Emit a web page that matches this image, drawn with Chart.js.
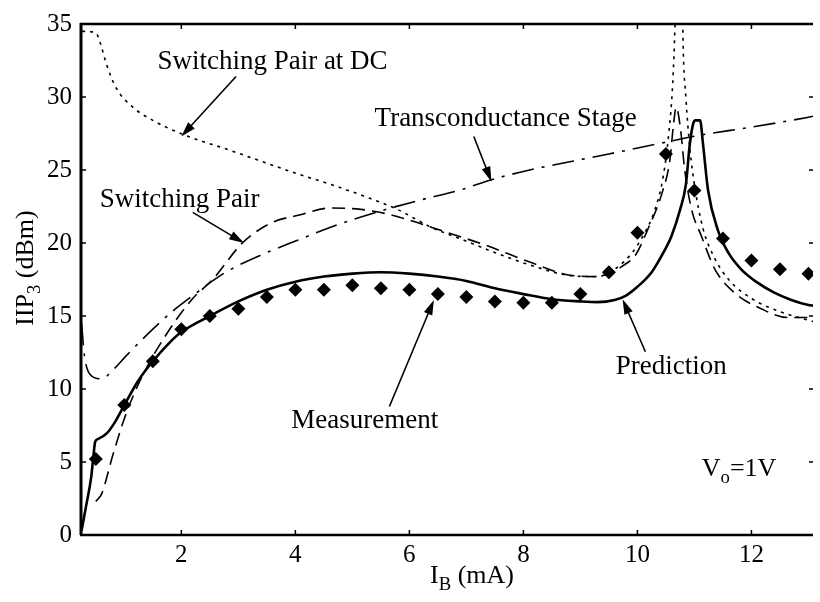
<!DOCTYPE html>
<html>
<head>
<meta charset="utf-8">
<script src="https://cdn.jsdelivr.net/npm/chart.js@4.4.1/dist/chart.umd.min.js"></script>
<style>
  body { margin: 0; background: #fff; }
  #wrap { width: 820px; height: 602px; }
</style>
</head>
<body>
<div id="wrap"><canvas id="iip3"></canvas></div>
<script>
// IIP3 versus bias current
const FONT = "'Liberation Serif', 'Times New Roman', serif";

// measured points (diamonds)
const measX = [0.5, 1, 1.5, 2, 2.5, 3, 3.5, 4, 4.5, 5, 5.5, 6, 6.5, 7, 7.5, 8, 8.5, 9, 9.5, 10, 10.5, 11, 11.5, 12, 12.5, 13];
const measY = [5.2, 8.9, 11.9, 14.1, 15.0, 15.5, 16.3, 16.8, 16.8, 17.1, 16.9, 16.8, 16.5, 16.3, 16.0, 15.9, 15.9, 16.5, 18.0, 20.7, 26.1, 23.6, 20.3, 18.8, 18.2, 17.9];

// prediction (solid)
const predX = [0.25, 0.33, 0.42, 0.46, 0.49, 0.55, 0.7, 0.83, 1.0, 1.25, 1.5, 1.85, 2.0, 2.5, 3.0, 3.5, 4.0, 4.5, 5.0, 5.5, 6.0, 6.5, 7.0, 7.5, 8.0, 8.5, 9.0, 9.3, 9.6, 9.8, 10.0, 10.25, 10.45, 10.6, 10.75, 10.85, 10.92, 10.98, 11.02, 11.1, 11.15, 11.24, 11.41, 11.6, 11.82, 12.1, 12.4, 12.7, 13.0, 13.1];
const predY = [0.3, 2.0, 4.0, 5.5, 6.4, 6.6, 7.0, 7.7, 8.9, 10.6, 11.9, 13.4, 13.9, 15.0, 16.0, 16.8, 17.35, 17.7, 17.9, 18.0, 17.9, 17.7, 17.4, 16.9, 16.5, 16.15, 16.0, 15.95, 16.1, 16.4, 17.0, 18.0, 19.3, 20.5, 22.3, 24.0, 26.8, 28.2, 28.4, 28.4, 26.8, 23.6, 20.9, 19.3, 18.2, 17.3, 16.6, 16.1, 15.75, 15.7];

// switching pair (dashed)
const swX = [0.5, 0.6, 0.8, 1.03, 1.33, 1.73, 2.2, 2.55, 3.07, 3.59, 4.05, 4.63, 5.15, 5.6, 5.97, 6.6, 7.3, 8.11, 8.69, 8.92, 9.21, 9.5, 9.73, 9.97, 10.2, 10.43, 10.57, 10.63, 10.68, 10.75, 10.83, 10.95, 11.12, 11.36, 11.7, 12.17, 12.63, 13.1];
const swY = [2.3, 2.8, 5.5, 8.3, 11.0, 13.7, 16.2, 17.5, 20.0, 21.4, 21.9, 22.4, 22.3, 22.0, 21.6, 20.8, 19.9, 18.7, 17.9, 17.75, 17.7, 17.9, 18.4, 19.2, 21.1, 23.4, 25.7, 28.0, 29.3, 28.0, 25.0, 22.3, 20.5, 18.2, 16.6, 15.5, 14.9, 14.9];

// switching pair at DC (dotted)
const dcX = [0.26, 0.5, 0.57, 0.69, 0.86, 1.15, 1.5, 1.99, 2.89, 3.99, 4.63, 5.21, 5.79, 6.37, 6.95, 7.53, 8.11, 8.86, 9.3, 9.6, 9.9, 10.1, 10.3, 10.45, 10.55, 10.62, 10.66, 10.69, 10.78, 10.8, 10.85, 10.92, 11.0, 11.15, 11.35, 11.6, 12.0, 12.5, 13.1];
const dcY = [34.5, 34.4, 33.8, 32.2, 30.6, 29.3, 28.4, 27.5, 26.3, 24.8, 24.0, 23.2, 22.3, 21.1, 20.2, 19.3, 18.5, 17.75, 17.7, 18.2, 19.3, 20.5, 22.2, 24.5, 27.5, 31, 35, 40, 40, 34, 30, 26.5, 24, 21, 19, 17.5, 16.2, 15.3, 14.6];

// transconductance stage (dash-dot)
const tcX = [0.25, 0.3, 0.4, 0.6, 0.8, 1.04, 1.5, 1.9, 2.2, 2.78, 3.47, 4.05, 4.63, 5.5, 6.2, 6.95, 7.41, 8.11, 8.86, 9.5, 10.37, 11.12, 11.94, 12.98, 13.1];
const tcY = [14.5, 12.3, 11.0, 10.7, 11.3, 12.3, 14.1, 15.5, 16.4, 18.0, 19.3, 20.2, 21.1, 22.2, 22.95, 23.7, 24.3, 25.0, 25.6, 26.1, 26.8, 27.4, 27.9, 28.6, 28.7];

const xTicks = [2, 4, 6, 8, 10, 12];
const yTicks = [0, 5, 10, 15, 20, 25, 30, 35];

// labels with arrows, in data units: text anchor, arrow tail, arrow head
const notes = [
  { text: 'Switching Pair at DC', at: [1.58, 31.9], from: [2.96, 31.4], to: [2.0, 27.3] },
  { text: 'Transconductance Stage', at: [5.39, 28.0], from: [7.13, 27.3], to: [7.44, 24.2] },
  { text: 'Switching Pair', at: [0.57, 22.5], from: [2.2, 22.1], to: [3.1, 20.0] },
  { text: 'Measurement', at: [3.93, 7.33], from: [5.65, 8.8], to: [6.43, 16.1] },
  { text: 'Prediction', at: [9.62, 11.06], from: [10.14, 12.55], to: [9.74, 16.15] }
];

function pts(xs, ys) {
  return xs.map((x, i) => ({ x: x, y: ys[i] }));
}

// text with a subscript part: [[str, isSub], ...]
function subText(ctx, parts, x, y, size) {
  let cx = x;
  parts.forEach(p => {
    ctx.font = (p[1] ? size * 0.72 : size) + 'px ' + FONT;
    ctx.fillText(p[0], cx, p[1] ? y + size * 0.28 : y);
    cx += ctx.measureText(p[0]).width;
  });
}
function subWidth(ctx, parts, size) {
  let w = 0;
  parts.forEach(p => {
    ctx.font = (p[1] ? size * 0.72 : size) + 'px ' + FONT;
    w += ctx.measureText(p[0]).width;
  });
  return w;
}

function arrow(ctx, x1, y1, x2, y2) {
  const a = Math.atan2(y2 - y1, x2 - x1);
  const len = 15, half = 4.5;
  ctx.beginPath();
  ctx.moveTo(x1, y1);
  ctx.lineTo(x2 - Math.cos(a) * len * 0.8, y2 - Math.sin(a) * len * 0.8);
  ctx.lineWidth = 1.6;
  ctx.stroke();
  ctx.beginPath();
  ctx.moveTo(x2, y2);
  ctx.lineTo(x2 - Math.cos(a) * len - Math.sin(a) * half, y2 - Math.sin(a) * len + Math.cos(a) * half);
  ctx.lineTo(x2 - Math.cos(a) * len + Math.sin(a) * half, y2 - Math.sin(a) * len - Math.cos(a) * half);
  ctx.closePath();
  ctx.fill();
}

const decor = {
  id: 'decor',
  afterDraw(chart) {
    const ctx = chart.ctx;
    const a = chart.chartArea;
    const xs = chart.scales.x, ys = chart.scales.y;
    ctx.save();
    ctx.strokeStyle = '#000';
    ctx.fillStyle = '#000';
    ctx.setLineDash([]);

    // frame: left, bottom, top
    ctx.lineWidth = 3;
    ctx.beginPath();
    ctx.moveTo(a.left, a.top - 1);
    ctx.lineTo(a.left, a.bottom);
    ctx.stroke();
    ctx.lineWidth = 2.5;
    ctx.beginPath();
    ctx.moveTo(a.left - 1, a.bottom);
    ctx.lineTo(a.right, a.bottom);
    ctx.moveTo(a.left - 1, a.top);
    ctx.lineTo(a.right, a.top);
    ctx.stroke();

    // inward ticks
    ctx.lineWidth = 1.5;
    ctx.beginPath();
    xTicks.forEach(v => {
      const px = xs.getPixelForValue(v);
      ctx.moveTo(px, a.bottom); ctx.lineTo(px, a.bottom - 5);
      ctx.moveTo(px, a.top); ctx.lineTo(px, a.top + 5);
    });
    yTicks.forEach(v => {
      const py = ys.getPixelForValue(v);
      ctx.moveTo(a.left, py); ctx.lineTo(a.left + 5, py);
      ctx.moveTo(a.right, py); ctx.lineTo(a.right - 4, py);
    });
    ctx.stroke();

    // labels and arrows
    ctx.textBaseline = 'alphabetic';
    ctx.textAlign = 'left';
    ctx.font = '27px ' + FONT;
    notes.forEach(n => {
      ctx.fillText(n.text, xs.getPixelForValue(n.at[0]), ys.getPixelForValue(n.at[1]));
      arrow(ctx, xs.getPixelForValue(n.from[0]), ys.getPixelForValue(n.from[1]),
        xs.getPixelForValue(n.to[0]), ys.getPixelForValue(n.to[1]));
    });

    // V_o = 1V
    subText(ctx, [['V', false], ['o', true], ['=1V', false]],
      xs.getPixelForValue(11.13), ys.getPixelForValue(4.07), 26);

    // axis titles
    const xt = [['I', false], ['B', true], [' (mA)', false]];
    const xw = subWidth(ctx, xt, 26);
    subText(ctx, xt, 472 - xw / 2, 583, 26);

    const yt = [['IIP', false], ['3', true], [' (dBm)', false]];
    const yw = subWidth(ctx, yt, 26);
    ctx.translate(33, 268);
    ctx.rotate(-Math.PI / 2);
    subText(ctx, yt, -yw / 2, 0, 26);
    ctx.restore();
  }
};

const lineBase = {
  borderColor: '#000',
  backgroundColor: '#000',
  pointRadius: 0,
  fill: false,
  cubicInterpolationMode: 'monotone',
  borderWidth: 1.6
};

new Chart(document.getElementById('iip3'), {
  type: 'scatter',
  data: {
    datasets: [
      Object.assign({}, lineBase, { label: 'Prediction', data: pts(predX, predY), showLine: true, borderWidth: 2.6 }),
      Object.assign({}, lineBase, { label: 'Switching Pair', data: pts(swX, swY), showLine: true, borderDash: [13, 7] }),
      Object.assign({}, lineBase, { label: 'Switching Pair at DC', data: pts(dcX, dcY), showLine: true, borderDash: [3, 5] }),
      Object.assign({}, lineBase, { label: 'Transconductance Stage', data: pts(tcX, tcY), showLine: true, borderDash: [22, 8, 3, 8] }),
      {
        label: 'Measurement',
        data: pts(measX, measY),
        showLine: false,
        pointStyle: 'rectRot',
        pointRadius: 7,
        pointBackgroundColor: '#000',
        pointBorderColor: '#000',
        pointBorderWidth: 0
      }
    ]
  },
  options: {
    responsive: true,
    maintainAspectRatio: false,
    animation: false,
    layout: { padding: { left: 0, right: 1, top: 19, bottom: 0 } },
    plugins: { legend: { display: false }, tooltip: { enabled: false } },
    scales: {
      x: {
        type: 'linear',
        min: 0.24,
        max: 13.08,
        afterFit: s => { s.height = 67; },
        afterBuildTicks: s => { s.ticks = xTicks.map(v => ({ value: v })); },
        grid: { display: false, drawTicks: false },
        border: { display: false },
        ticks: { color: '#000', padding: 5, font: { family: FONT, size: 25 } }
      },
      y: {
        min: 0,
        max: 35,
        afterFit: s => { s.width = 81; },
        afterBuildTicks: s => { s.ticks = yTicks.map(v => ({ value: v })); },
        grid: { display: false, drawTicks: false },
        border: { display: false },
        ticks: { color: '#000', padding: 9, font: { family: FONT, size: 25 } }
      }
    }
  },
  plugins: [decor]
});
</script>
</body>
</html>
